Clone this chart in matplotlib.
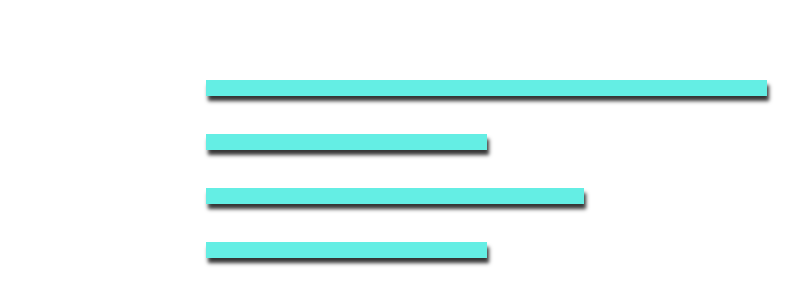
import matplotlib.pyplot as plt
import numpy as np

categories = ["A", "B", "C", "D"]
values = [300, 150, 202, 150]


def blur(a, sigma):
    r = int(3 * sigma) + 1
    k = np.exp(-0.5 * (np.arange(-r, r + 1) / sigma) ** 2)
    k /= k.sum()
    out = np.zeros_like(a)
    for i, w in zip(range(-r, r + 1), k):
        out += w * np.roll(a, i, axis=0)
    a = out
    out = np.zeros_like(a)
    for i, w in zip(range(-r, r + 1), k):
        out += w * np.roll(a, i, axis=1)
    return out


def drop_shadow(im, dpi, dx=2, dy=5, sigma=2.0, pad=14):
    ny, nx, _ = im.shape
    src = np.zeros((ny + 2 * pad, nx + 2 * pad, 4))
    src[pad:-pad, pad:-pad] = im
    alpha = np.roll(src[..., 3], dx, axis=1)
    alpha = np.roll(alpha, dy, axis=0)
    alpha = blur(alpha, sigma)
    out = np.zeros_like(src)
    out[..., :3] = 0.2
    out[..., 3] = np.clip(alpha * 1.0, 0, 1)
    return out, -pad, -pad


fig = plt.figure(figsize=(7.88, 3.07), dpi=100)
ax = fig.add_axes([206 / 788, 30 / 307, (767 - 206) / 788, 216 / 307])

# shadow copies, blurred and shifted by the agg filter
shadows = ax.barh(categories, values, height=0.29, color="black", zorder=1)
for b in shadows:
    b.set_agg_filter(drop_shadow)
    b.set_rasterized(True)

ax.barh(categories, values, height=0.29, color="#64EEE4", zorder=2)

ax.set_xlim(0, max(values))
ax.set_ylim(len(categories) - 0.5, -0.5)
ax.axis("off")

fig.savefig("out.png", dpi=100)
